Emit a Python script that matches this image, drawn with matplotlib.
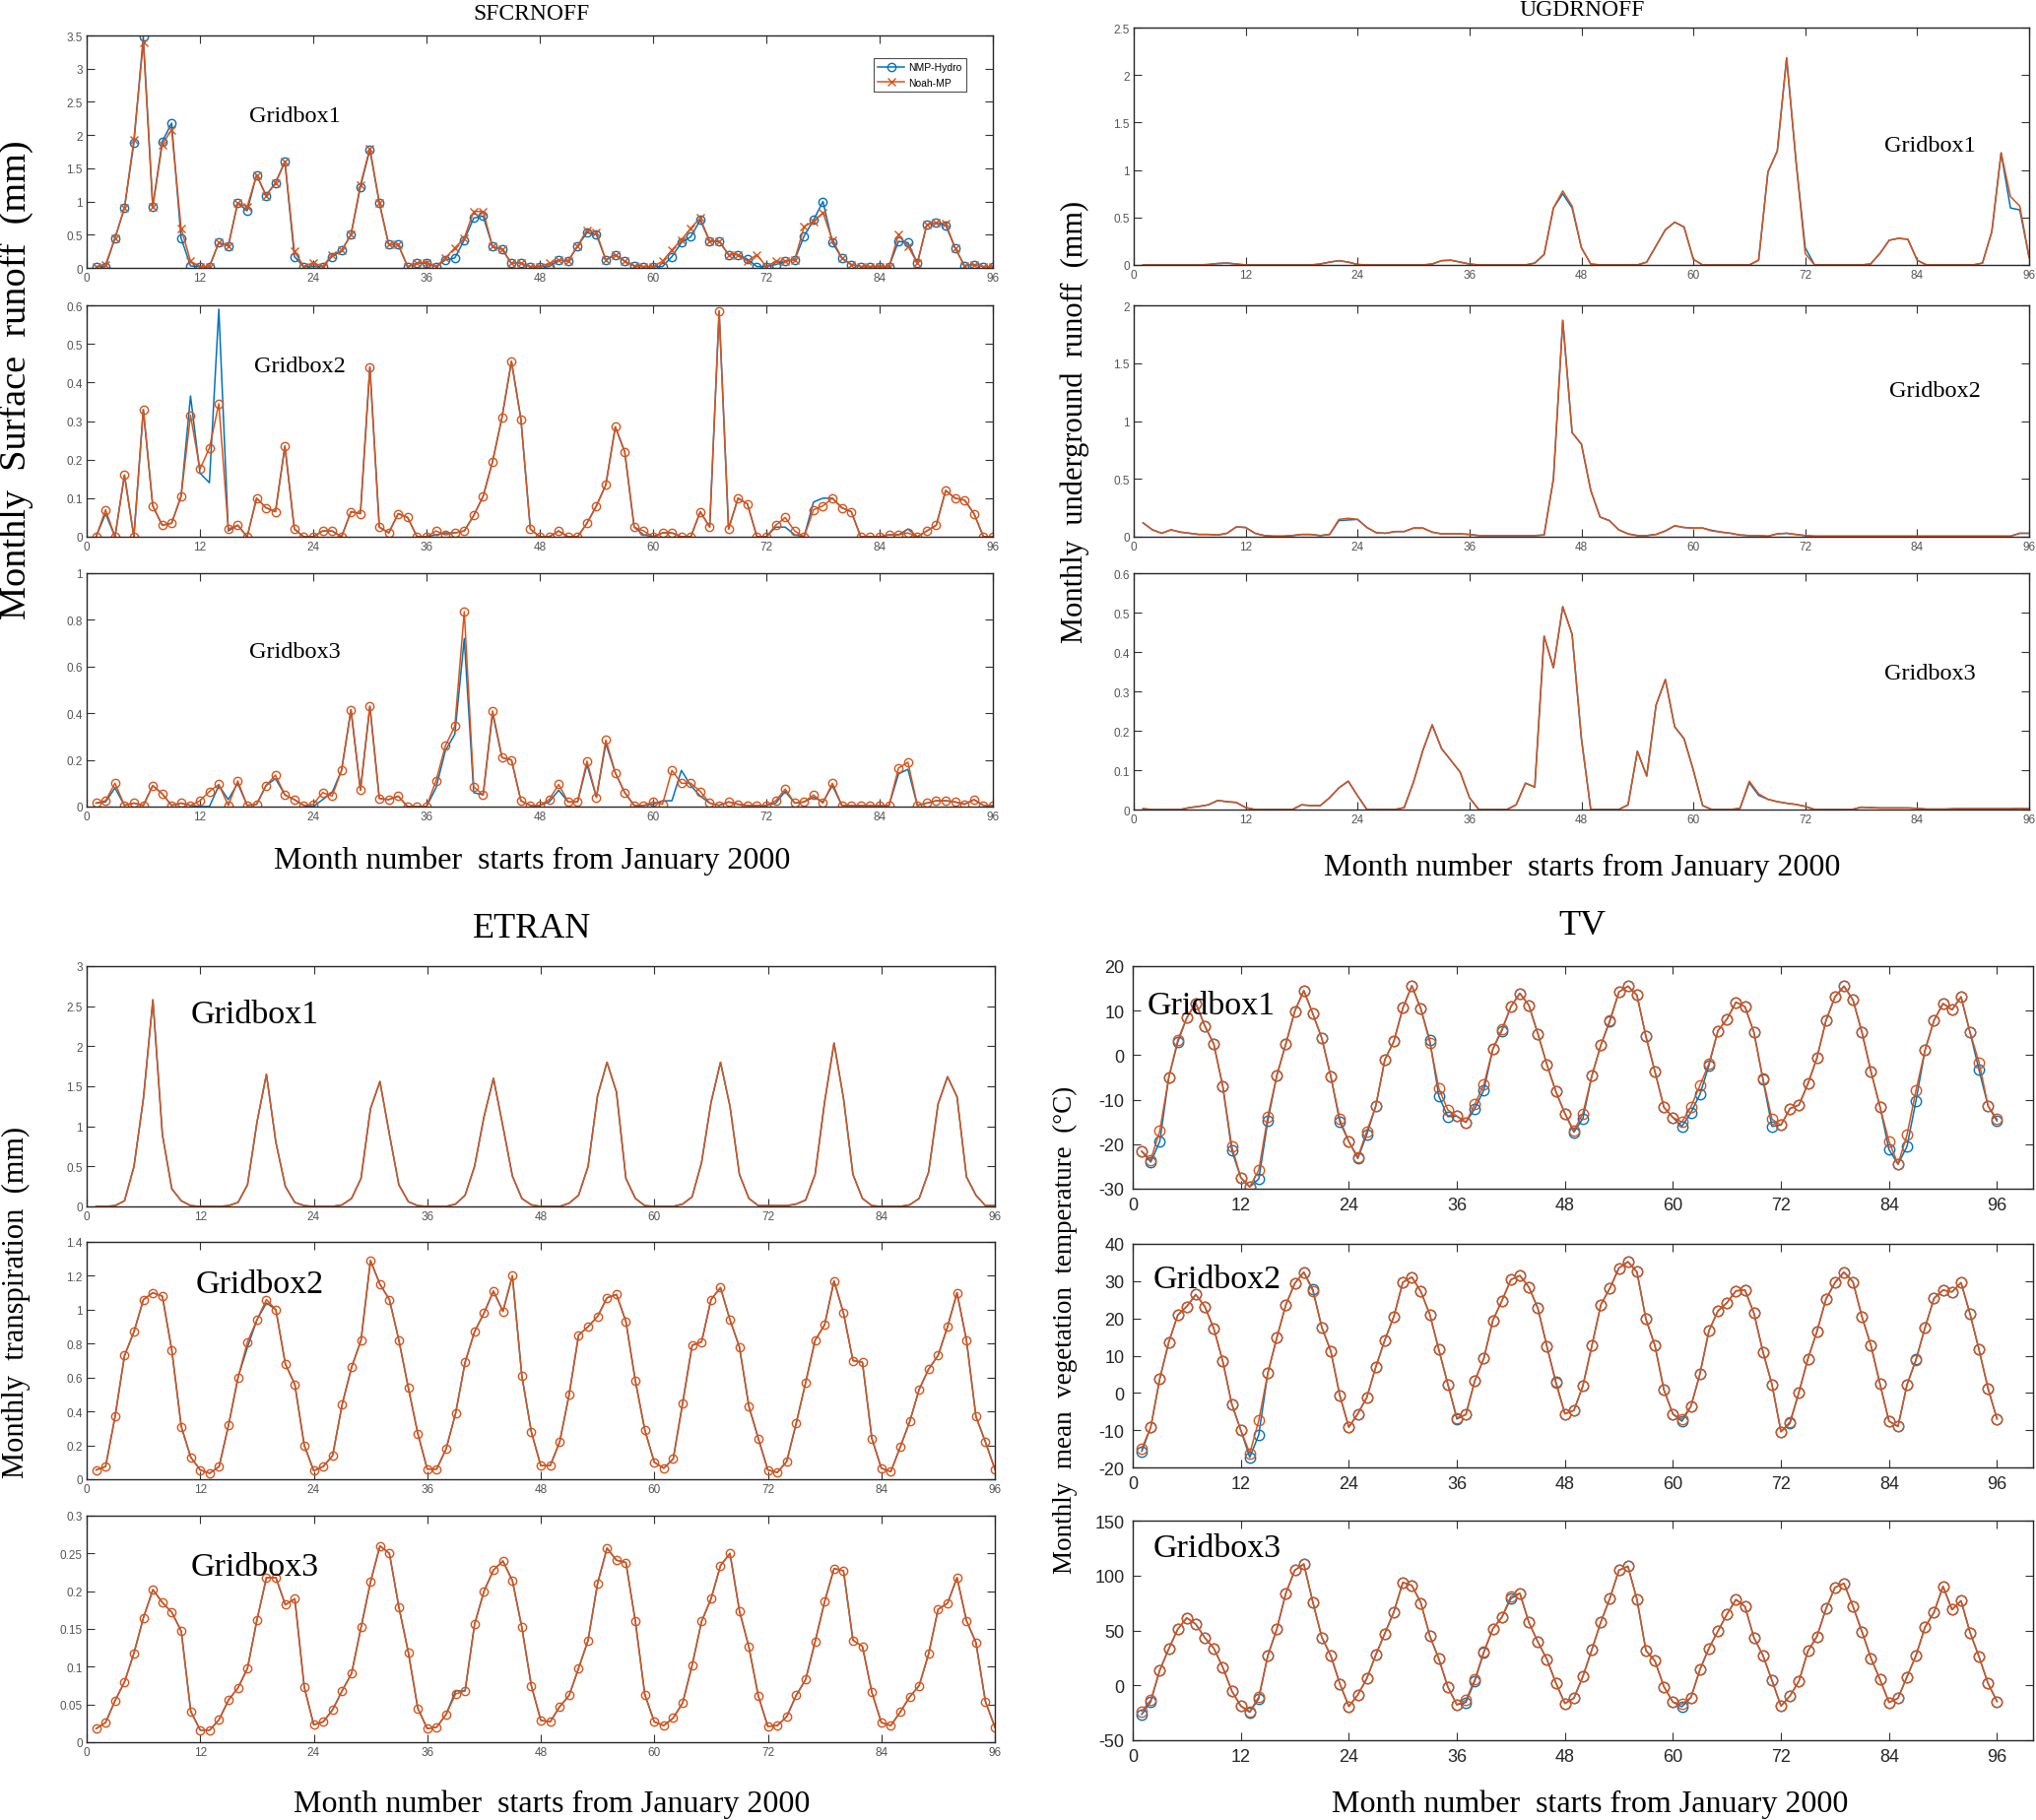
import matplotlib
matplotlib.use("Agg")
import matplotlib.pyplot as plt
import numpy as np

W, H = 2067, 1849
BLUE = "#0072BD"
ORANGE = "#D95319"
SERIF = ["Liberation Serif", "DejaVu Serif"]
NARROW = ["Liberation Sans Narrow", "Liberation Sans", "DejaVu Sans"]

months = np.arange(1, 97)
xticks = [0, 12, 24, 36, 48, 60, 72, 84, 96]
legend_labels = ["NMP-Hydro", "Noah-MP"]
titles = ["SFCRNOFF", "UGDRNOFF", "ETRAN", "TV"]
xlabel_text = "Month number  starts from January 2000"
ylabels = ["Monthly  Surface  runoff  (mm)",
           "Monthly  underground  runoff  (mm)",
           "Monthly  transpiration  (mm)",
           "Monthly  mean  vegetation  temperature  (\u00b0C)"]
gridbox_names = ["Gridbox1", "Gridbox2", "Gridbox3"]

# ---------------- SFCRNOFF ----------------
sfc_g1_noah = [0.02, 0.05, 0.45, 0.9, 1.93, 3.4, 0.92, 1.86, 2.08, 0.6, 0.1, 0.02,
               0.02, 0.38, 0.33, 0.98, 0.92, 1.4, 1.09, 1.28, 1.6, 0.25, 0.02, 0.08,
               0.02, 0.2, 0.26, 0.5, 1.25, 1.8, 0.98, 0.35, 0.35, 0.02, 0.07, 0.08,
               0.02, 0.15, 0.3, 0.45, 0.85, 0.85, 0.32, 0.28, 0.07, 0.07, 0.02, 0.02,
               0.07, 0.12, 0.1, 0.33, 0.57, 0.53, 0.12, 0.2, 0.1, 0.03, 0.02, 0.02,
               0.1, 0.27, 0.42, 0.6, 0.75, 0.4, 0.4, 0.2, 0.2, 0.1, 0.2, 0.02,
               0.1, 0.1, 0.12, 0.62, 0.7, 0.83, 0.42, 0.15, 0.05, 0.02, 0.02, 0.02,
               0.02, 0.5, 0.33, 0.07, 0.65, 0.68, 0.67, 0.3, 0.03, 0.05, 0.02, 0.02]
sfc_g1_hydro_diff = {2: 0.02, 5: 1.88, 6: 3.48, 8: 1.9, 9: 2.18, 10: 0.45, 11: 0.03,
                     17: 0.86, 22: 0.17, 24: 0.02, 26: 0.17, 29: 1.22, 30: 1.78,
                     36: 0.07, 38: 0.12, 39: 0.15, 40: 0.42, 41: 0.75, 42: 0.78,
                     49: 0.02, 53: 0.53, 54: 0.5, 61: 0.02, 62: 0.17, 63: 0.38,
                     64: 0.47, 65: 0.72, 70: 0.13, 71: 0.02, 73: 0.05, 76: 0.48,
                     77: 0.72, 78: 1.0, 79: 0.38, 86: 0.4, 87: 0.38, 91: 0.64}

sfc_g2_noah = [0.0, 0.07, 0.0, 0.16, 0.0, 0.33, 0.08, 0.03, 0.035, 0.105, 0.315, 0.175,
               0.23, 0.345, 0.02, 0.03, 0.0, 0.1, 0.075, 0.065, 0.235, 0.02, 0.0, 0.0,
               0.015, 0.015, 0.0, 0.065, 0.06, 0.44, 0.025, 0.01, 0.06, 0.05, 0.0, 0.0,
               0.015, 0.005, 0.01, 0.015, 0.055, 0.105, 0.195, 0.31, 0.455, 0.305, 0.02, 0.0,
               0.0, 0.015, 0.0, 0.0, 0.035, 0.08, 0.135, 0.285, 0.22, 0.025, 0.015, 0.0,
               0.01, 0.01, 0.0, 0.0, 0.065, 0.025, 0.585, 0.02, 0.1, 0.085, 0.0, 0.0,
               0.03, 0.05, 0.015, 0.0, 0.07, 0.08, 0.1, 0.075, 0.065, 0.0, 0.0, 0.0,
               0.005, 0.005, 0.01, 0.0, 0.015, 0.03, 0.12, 0.1, 0.095, 0.06, 0.0, 0.0]
sfc_g2_hydro_diff = {2: 0.06, 11: 0.365, 12: 0.165, 13: 0.14, 14: 0.59, 15: 0.015,
                     37: 0.005, 38: 0.01, 59: 0.005, 73: 0.025, 74: 0.025, 75: 0.005,
                     77: 0.09, 78: 0.1, 87: 0.02}

sfc_g3_noah = [0.015, 0.025, 0.1, 0.005, 0.015, 0.005, 0.09, 0.055, 0.005, 0.015, 0.005, 0.025,
               0.065, 0.095, 0.005, 0.11, 0.005, 0.01, 0.09, 0.135, 0.05, 0.03, 0.005, 0.01,
               0.06, 0.045, 0.155, 0.415, 0.07, 0.43, 0.035, 0.03, 0.045, 0.0, 0.0, 0.0,
               0.11, 0.26, 0.345, 0.835, 0.085, 0.05, 0.41, 0.21, 0.2, 0.025, 0.005, 0.005,
               0.03, 0.095, 0.02, 0.02, 0.195, 0.04, 0.285, 0.145, 0.06, 0.005, 0.005, 0.02,
               0.01, 0.155, 0.1, 0.1, 0.065, 0.015, 0.005, 0.02, 0.01, 0.005, 0.005, 0.005,
               0.025, 0.075, 0.015, 0.02, 0.05, 0.015, 0.1, 0.005, 0.005, 0.005, 0.005, 0.005,
               0.005, 0.165, 0.19, 0.005, 0.015, 0.025, 0.025, 0.02, 0.01, 0.03, 0.005, 0.005]
sfc_g3_hydro_diff = {2: 0.02, 3: 0.08, 12: 0.0, 13: 0.0, 14: 0.09, 15: 0.03, 16: 0.1,
                     20: 0.12, 24: 0.0, 25: 0.03, 26: 0.06, 37: 0.08, 38: 0.24, 39: 0.31,
                     40: 0.72, 41: 0.06, 43: 0.4, 49: 0.02, 50: 0.07, 53: 0.18, 55: 0.27,
                     60: 0.01, 61: 0.025, 62: 0.025, 63: 0.155, 64: 0.09, 65: 0.045,
                     73: 0.015, 74: 0.065, 77: 0.04, 78: 0.02, 79: 0.09, 86: 0.14, 87: 0.16}

# ---------------- UGDRNOFF ----------------
ugd_g1_noah = [0, 0, 0, 0, 0, 0, 0, 0.005, 0.015, 0.02, 0.01, 0,
               0, 0, 0, 0, 0, 0, 0, 0.01, 0.03, 0.045, 0.03, 0.005,
               0, 0, 0, 0, 0, 0, 0, 0.01, 0.045, 0.05, 0.03, 0.01,
               0, 0, 0, 0, 0, 0, 0.02, 0.11, 0.6, 0.78, 0.62, 0.18,
               0.01, 0, 0, 0, 0, 0, 0.03, 0.2, 0.37, 0.45, 0.4, 0.06,
               0, 0, 0, 0, 0, 0, 0.05, 0.98, 1.2, 2.18, 1.1, 0.12,
               0, 0, 0, 0, 0, 0, 0.01, 0.12, 0.26, 0.28, 0.27, 0.05,
               0, 0, 0, 0, 0, 0, 0.02, 0.35, 1.18, 0.72, 0.62, 0.08]
ugd_g1_hydro_diff = {46: 0.75, 47: 0.6, 72: 0.18, 94: 0.6, 95: 0.58}

ugd_g2_noah = [0.12, 0.06, 0.03, 0.06, 0.04, 0.03, 0.02, 0.02, 0.015, 0.03, 0.085, 0.08,
               0.03, 0.01, 0.005, 0.005, 0.01, 0.02, 0.02, 0.01, 0.02, 0.15, 0.16, 0.15,
               0.08, 0.035, 0.03, 0.045, 0.045, 0.075, 0.075, 0.04, 0.025, 0.025, 0.025, 0.02,
               0.01, 0.01, 0.01, 0.01, 0.01, 0.01, 0.01, 0.015, 0.5, 1.87, 0.9, 0.8,
               0.4, 0.17, 0.14, 0.06, 0.025, 0.01, 0.01, 0.02, 0.05, 0.095, 0.08, 0.075,
               0.075, 0.05, 0.04, 0.03, 0.015, 0.01, 0.01, 0.005, 0.025, 0.03, 0.02, 0.01,
               0.005, 0.005, 0.005, 0.005, 0.005, 0.005, 0.005, 0.005, 0.005, 0.005, 0.005, 0.005,
               0.005, 0.005, 0.005, 0.005, 0.005, 0.005, 0.005, 0.005, 0.005, 0.005, 0.03, 0.03]
ugd_g2_hydro_diff = {22: 0.14, 23: 0.145, 62: 0.055}

ugd_g3_noah = [0.002, 0, 0, 0, 0, 0.005, 0.008, 0.012, 0.023, 0.02, 0.018, 0.005,
               0, 0, 0, 0, 0, 0.012, 0.01, 0.01, 0.03, 0.055, 0.072, 0.035,
               0, 0, 0, 0, 0.005, 0.07, 0.15, 0.215, 0.155, 0.125, 0.095, 0.03,
               0, 0, 0, 0, 0.012, 0.067, 0.057, 0.44, 0.36, 0.515, 0.445, 0.18,
               0, 0, 0, 0, 0.012, 0.148, 0.085, 0.265, 0.33, 0.21, 0.18, 0.1,
               0.01, 0, 0, 0, 0.003, 0.072, 0.04, 0.026, 0.02, 0.016, 0.013, 0.008,
               0, 0, 0, 0, 0, 0.006, 0.005, 0.004, 0.004, 0.004, 0.004, 0.003,
               0.001, 0.001, 0.001, 0.002, 0.002, 0.002, 0.002, 0.002, 0.002, 0.002, 0.003, 0.002]
ugd_g3_hydro_diff = {66: 0.068, 67: 0.036}

# ---------------- ETRAN ----------------
et_g1_noah = [0, 0, 0.01, 0.07, 0.5, 1.35, 2.58, 0.9, 0.22, 0.07, 0.01, 0,
              0, 0, 0.01, 0.05, 0.27, 1.05, 1.65, 0.8, 0.25, 0.05, 0.01, 0,
              0, 0, 0.02, 0.1, 0.35, 1.22, 1.56, 0.9, 0.27, 0.06, 0.01, 0,
              0, 0, 0.03, 0.14, 0.5, 1.12, 1.6, 1.0, 0.38, 0.1, 0.02, 0,
              0, 0, 0.04, 0.14, 0.5, 1.38, 1.8, 1.43, 0.35, 0.1, 0.01, 0,
              0, 0, 0.03, 0.12, 0.55, 1.3, 1.8, 1.25, 0.4, 0.1, 0.01, 0.01,
              0.01, 0.01, 0.03, 0.08, 0.4, 1.3, 2.04, 1.35, 0.4, 0.1, 0.01, 0,
              0, 0, 0.02, 0.1, 0.43, 1.28, 1.62, 1.37, 0.37, 0.14, 0.01, 0.01]
et_g1_hydro_diff = {}

et_g2_noah = [0.055, 0.075, 0.37, 0.73, 0.87, 1.06, 1.1, 1.08, 0.76, 0.31, 0.13, 0.055,
              0.035, 0.075, 0.32, 0.6, 0.81, 0.94, 1.06, 1.0, 0.68, 0.56, 0.2, 0.05,
              0.075, 0.14, 0.44, 0.66, 0.82, 1.29, 1.15, 1.06, 0.82, 0.54, 0.27, 0.06,
              0.06, 0.18, 0.39, 0.69, 0.87, 0.98, 1.11, 0.99, 1.2, 0.61, 0.28, 0.08,
              0.08, 0.22, 0.5, 0.85, 0.9, 0.96, 1.07, 1.09, 0.93, 0.58, 0.29, 0.1,
              0.065, 0.12, 0.45, 0.79, 0.81, 1.06, 1.13, 0.94, 0.78, 0.43, 0.24, 0.055,
              0.04, 0.105, 0.33, 0.57, 0.82, 0.91, 1.17, 0.98, 0.7, 0.69, 0.24, 0.065,
              0.045, 0.19, 0.34, 0.53, 0.65, 0.73, 0.9, 1.1, 0.82, 0.37, 0.22, 0.06]
et_g2_hydro_diff = {17: 0.78, 19: 1.04}

et_g3_noah = [0.018, 0.026, 0.055, 0.08, 0.118, 0.165, 0.202, 0.185, 0.172, 0.147, 0.041, 0.016,
              0.016, 0.03, 0.056, 0.072, 0.098, 0.162, 0.218, 0.218, 0.182, 0.19, 0.073, 0.023,
              0.027, 0.043, 0.068, 0.091, 0.152, 0.212, 0.26, 0.25, 0.179, 0.119, 0.045, 0.018,
              0.02, 0.037, 0.064, 0.068, 0.156, 0.2, 0.228, 0.24, 0.214, 0.152, 0.075, 0.029,
              0.027, 0.047, 0.062, 0.098, 0.135, 0.21, 0.257, 0.241, 0.238, 0.16, 0.063, 0.027,
              0.022, 0.032, 0.052, 0.102, 0.16, 0.19, 0.234, 0.25, 0.174, 0.126, 0.061, 0.021,
              0.022, 0.034, 0.062, 0.083, 0.133, 0.186, 0.23, 0.227, 0.135, 0.127, 0.066, 0.026,
              0.022, 0.04, 0.06, 0.075, 0.117, 0.176, 0.184, 0.218, 0.161, 0.132, 0.054, 0.02]
et_g3_hydro_diff = {39: 0.068}

# ---------------- TV ----------------
tv_g1_noah = [-21.6, -23.5, -17.0, -5.0, 3.4, 8.4, 11.7, 6.6, 2.5, -7.0, -20.5, -27.5,
              -29.6, -25.8, -13.8, -4.6, 2.5, 9.9, 14.5, 9.3, 3.8, -4.8, -14.4, -19.4,
              -22.9, -17.1, -11.4, -1.0, 3.1, 10.6, 15.6, 10.4, 2.8, -7.5, -12.3, -13.7,
              -15.1, -11.0, -6.6, 1.4, 5.8, 10.9, 13.9, 11.2, 4.8, -2.1, -8.2, -13.1,
              -17.0, -13.1, -4.6, 2.3, 7.9, 14.2, 15.5, 13.5, 4.2, -3.7, -11.7, -14.0,
              -15.0, -11.6, -6.8, -1.9, 5.5, 8.1, 11.9, 10.9, 5.1, -5.3, -14.4, -15.7,
              -12.0, -11.2, -6.4, -0.6, 7.8, 13.1, 15.5, 12.4, 5.1, -3.7, -11.6, -19.4,
              -24.5, -17.9, -7.9, 1.1, 7.8, 11.6, 10.2, 13.1, 5.1, -1.6, -11.4, -14.4]
tv_g1_hydro_diff = {2: -24.0, 3: -19.4, 5: 2.9, 11: -21.4, 14: -27.8, 15: -14.8, 23: -15.0,
                    25: -23.2, 26: -17.8, 33: 3.3, 34: -9.2, 35: -13.8, 38: -12.0, 39: -7.8,
                    41: 5.5, 49: -17.3, 50: -14.2, 53: 7.6, 61: -16.0, 62: -12.9, 63: -8.8,
                    64: -2.3, 70: -5.5, 71: -16.0, 84: -21.2, 86: -20.5, 87: -10.2,
                    94: -3.3, 96: -14.8}

tv_g2_noah = [-14.95, -9.2, 3.8, 13.6, 20.9, 23.2, 26.4, 23.2, 17.3, 8.5, -3.0, -10.0,
              -16.2, -7.4, 5.3, 14.8, 23.6, 29.4, 32.4, 27.4, 17.6, 11.2, -0.7, -9.2,
              -5.6, -1.2, 7.0, 14.2, 20.5, 29.7, 31.1, 27.2, 21.0, 11.6, 2.3, -6.7,
              -5.8, 3.3, 9.3, 19.5, 24.7, 30.4, 31.5, 28.4, 22.7, 12.5, 2.6, -5.6,
              -4.7, 1.9, 12.7, 23.7, 28.1, 33.5, 35.2, 32.5, 19.8, 12.7, 0.8, -5.7,
              -7.0, -3.6, 5.1, 16.7, 22.0, 24.2, 27.4, 27.6, 21.4, 11.0, 2.3, -10.4,
              -7.8, 0.2, 9.2, 16.5, 25.2, 29.6, 32.4, 29.8, 20.4, 12.7, 2.4, -7.6,
              -9.0, 2.2, 8.8, 17.5, 25.4, 27.6, 27.1, 29.6, 21.2, 11.6, 1.2, -7.0]
tv_g2_hydro_diff = {1: -15.7, 13: -17.3, 14: -11.2, 20: 27.8, 36: -7.0, 47: 3.0,
                    61: -7.6, 73: -8.2, 87: 9.0}

tv_g3_noah = [-23.6, -13.5, 13.8, 33.2, 51.2, 61.4, 55.7, 43.4, 33.8, 16.5, -5.1, -18.6,
              -24.0, -10.5, 27.0, 51.2, 83.8, 104.8, 110.5, 75.8, 43.7, 27.0, 1.5, -19.2,
              -8.7, 6.3, 27.8, 47.3, 66.8, 93.7, 91.0, 75.1, 44.9, 24.0, -1.5, -17.7,
              -13.5, 5.4, 30.8, 51.5, 62.0, 81.1, 83.8, 57.2, 39.5, 23.7, 2.1, -16.5,
              -11.7, 8.1, 32.6, 57.8, 79.3, 104.8, 108.4, 78.4, 31.7, 22.2, -1.2, -15.3,
              -17.1, -11.1, 14.4, 33.8, 49.4, 64.7, 78.1, 71.9, 43.4, 27.2, 4.5, -18.9,
              -9.6, 3.9, 31.4, 44.6, 69.8, 89.2, 92.8, 71.9, 48.8, 24.6, 5.4, -15.6,
              -11.7, 7.8, 27.2, 53.0, 66.5, 90.1, 68.9, 77.0, 48.2, 26.0, 1.8, -14.7]
tv_g3_hydro_diff = {1: -26.5, 2: -15.0, 12: -19.0, 13: -24.5, 14: -12.0, 37: -15.6,
                    38: 4.0, 39: 30.0, 42: 79.0, 61: -19.5}

# y ticks per panel
sfc_yticks = [[0, 0.5, 1, 1.5, 2, 2.5, 3, 3.5], [0, 0.1, 0.2, 0.3, 0.4, 0.5, 0.6],
              [0, 0.2, 0.4, 0.6, 0.8, 1]]
ugd_yticks = [[0, 0.5, 1, 1.5, 2, 2.5], [0, 0.5, 1, 1.5, 2],
              [0, 0.1, 0.2, 0.3, 0.4, 0.5, 0.6]]
et_yticks = [[0, 0.5, 1, 1.5, 2, 2.5, 3], [0, 0.2, 0.4, 0.6, 0.8, 1, 1.2, 1.4],
             [0, 0.05, 0.1, 0.15, 0.2, 0.25, 0.3]]
tv_yticks = [[-30, -20, -10, 0, 10, 20], [-20, -10, 0, 10, 20, 30, 40],
             [-50, 0, 50, 100, 150]]


def hydro_from(noah, diff):
    out = list(noah)
    for m, v in diff.items():
        out[m - 1] = v
    return out


def fx(px):
    return px / W


def fy(py):
    return 1 - py / H


fig = plt.figure(figsize=(W / 100, H / 100), dpi=100)
fig.patch.set_facecolor("white")


def make_axes(x0, x1, y0, y1):
    return fig.add_axes([fx(x0), fy(y1), fx(x1 - x0), (y1 - y0) / H])


def style_axes(ax, xmax, yticks, tick_fs, tick_col, pad):
    ax.set_xlim(0, xmax)
    ax.set_ylim(yticks[0], yticks[-1])
    ax.set_xticks(xticks)
    ax.set_xticklabels([f"{t:g}" for t in xticks], family=NARROW)
    ax.set_yticks(yticks)
    ax.set_yticklabels([f"{t:g}" for t in yticks], family=NARROW)
    ax.tick_params(direction="in", top=True, right=True, length=6, width=0.8,
                   labelsize=tick_fs, labelcolor=tick_col, color="#333333", pad=pad)
    for sp in ax.spines.values():
        sp.set_linewidth(1.0)
        sp.set_color("#262626")


def panel(box, xmax, yticks, noah, diff, hydro_style, noah_style, tick_fs, tick_col,
          pad, name, name_xy, name_fs):
    ax = make_axes(*box)
    hydro = hydro_from(noah, diff)
    h, = ax.plot(months, hydro, color=BLUE, lw=1.1, **hydro_style)
    n, = ax.plot(months, noah, color=ORANGE, lw=1.1, **noah_style)
    style_axes(ax, xmax, yticks, tick_fs, tick_col, pad)
    fig.text(fx(name_xy[0]), fy(name_xy[1]), name, fontsize=name_fs, family=SERIF,
             ha="left", va="center")
    return ax, h, n


line_only = dict()
open_o = dict(marker="o", ms=6, mfc="none", mew=1.0)
cross_x = dict(marker="x", ms=6, mew=1.0)
big_o = dict(marker="o", ms=7.5, mfc="none", mew=1.0)

# SFCRNOFF
sfc_boxes = [(88, 1008, 37, 273), (88, 1008, 311, 546), (88, 1008, 583, 820)]
sfc_data = [(sfc_g1_noah, sfc_g1_hydro_diff), (sfc_g2_noah, sfc_g2_hydro_diff),
            (sfc_g3_noah, sfc_g3_hydro_diff)]
sfc_names_xy = [(253, 119), (258, 372), (253, 663)]
for i in range(3):
    hs = open_o if i == 0 else line_only
    ns = cross_x if i == 0 else open_o
    ax, h, n = panel(sfc_boxes[i], 96, sfc_yticks[i], sfc_data[i][0], sfc_data[i][1],
                     hs, ns, 8.5, "#555555", 3, gridbox_names[i], sfc_names_xy[i], 17.5)
    if i == 0:
        leg = ax.legend([h, n], legend_labels, loc="upper right",
                        bbox_to_anchor=(0.976, 0.924), fancybox=False, edgecolor="#222222",
                        prop={"family": NARROW, "size": 7.5}, handlelength=2.6,
                        borderpad=0.4, labelspacing=0.5, handletextpad=0.4)
        leg.get_frame().set_linewidth(0.8)

# UGDRNOFF
ugd_boxes = [(1151, 2060, 29, 270), (1151, 2060, 311, 546), (1151, 2060, 583, 823)]
ugd_data = [(ugd_g1_noah, ugd_g1_hydro_diff), (ugd_g2_noah, ugd_g2_hydro_diff),
            (ugd_g3_noah, ugd_g3_hydro_diff)]
ugd_names_xy = [(1913, 149), (1918, 398), (1913, 684)]
for i in range(3):
    panel(ugd_boxes[i], 96, ugd_yticks[i], ugd_data[i][0], ugd_data[i][1],
          line_only, line_only, 8.5, "#555555", 3, gridbox_names[i], ugd_names_xy[i], 17.5)

# ETRAN
et_boxes = [(88, 1010, 982, 1226), (88, 1010, 1262, 1503), (88, 1010, 1540, 1770)]
et_data = [(et_g1_noah, et_g1_hydro_diff), (et_g2_noah, et_g2_hydro_diff),
           (et_g3_noah, et_g3_hydro_diff)]
et_names_xy = [(194, 1031), (199, 1305), (194, 1592)]
for i in range(3):
    ns = line_only if i == 0 else open_o
    panel(et_boxes[i], 96, et_yticks[i], et_data[i][0], et_data[i][1],
          line_only, ns, 8.5, "#555555", 3, gridbox_names[i], et_names_xy[i], 24.5)

# TV
tv_boxes = [(1150, 2064, 982, 1208), (1150, 2064, 1264, 1491), (1150, 2064, 1545, 1768)]
tv_data = [(tv_g1_noah, tv_g1_hydro_diff), (tv_g2_noah, tv_g2_hydro_diff),
           (tv_g3_noah, tv_g3_hydro_diff)]
tv_names_xy = [(1165, 1022), (1171, 1300), (1171, 1573)]
for i in range(3):
    panel(tv_boxes[i], 100, tv_yticks[i], tv_data[i][0], tv_data[i][1],
          big_o, big_o, 13, "#262626", 6, gridbox_names[i], tv_names_xy[i], 24.5)

# titles, x labels, y labels
title_pos = [(540, 14, 17), (1606, 11, 17), (540, 944, 26), (1606, 941, 26)]
for t, (x, y, fs) in zip(titles, title_pos):
    fig.text(fx(x), fy(y), t, fontsize=fs, family=SERIF, ha="center", va="center")

xlabel_pos = [(540, 874), (1606, 881), (560, 1832), (1614, 1832)]
for x, y in xlabel_pos:
    fig.text(fx(x), fy(y), xlabel_text, fontsize=23, family=SERIF, ha="center", va="center")

ylabel_pos = [(16, 386, 27.5), (1091, 428, 22), (16, 1322, 22), (1081, 1350, 19.5)]
for t, (x, y, fs) in zip(ylabels, ylabel_pos):
    fig.text(fx(x), fy(y), t, fontsize=fs, family=SERIF, ha="center", va="center",
             rotation=90)

fig.savefig("out.png", dpi=100, facecolor="white")
